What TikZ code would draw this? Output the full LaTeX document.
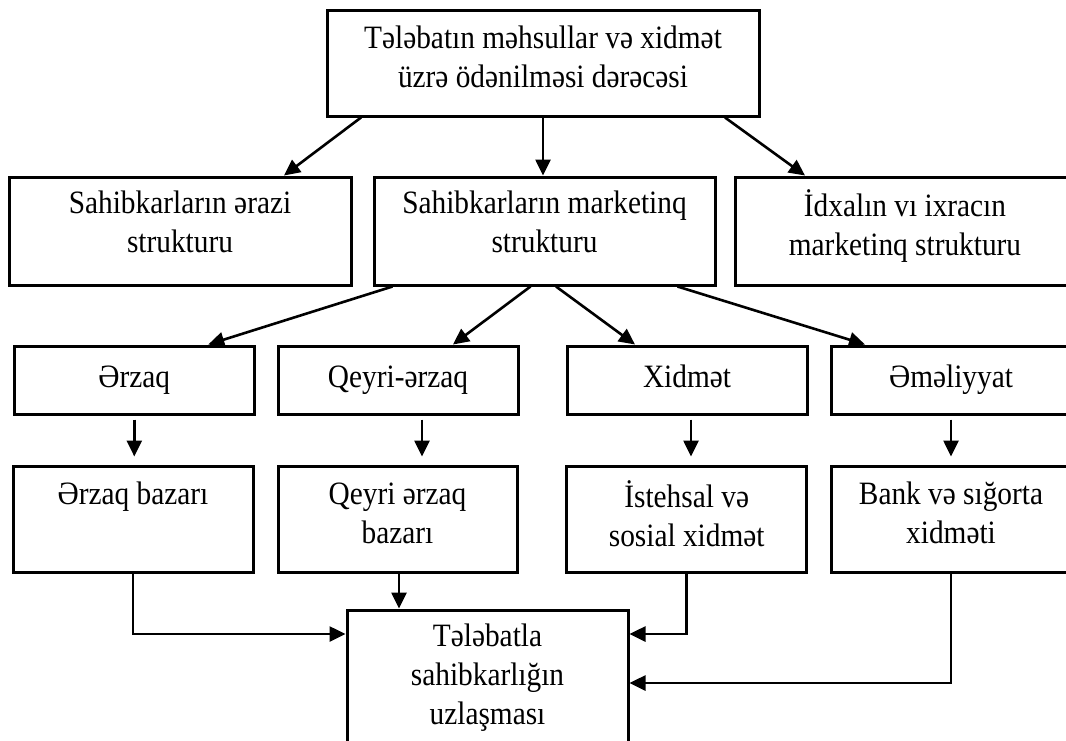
\documentclass[tikz,border=0pt]{standalone}
\usepackage{fontspec}
\setmainfont[FakeStretch=0.9]{Liberation Serif}
\usetikzlibrary{arrows.meta}
\begin{document}
\begin{tikzpicture}[x=1pt,y=-1pt,
  box/.style={draw,line width=3pt,inner sep=0pt,align=center,
    font=\fontsize{32.6}{39}\selectfont,
    execute at begin node=\strut, execute at end node=\strut},
  raise/.style={execute at end node={\rule[-17.7pt]{0pt}{0pt}}},
  lower/.style={execute at begin node={\rule{0pt}{37pt}}},
  arr/.style={line width=2.6pt,-{Triangle[length=16pt,width=15pt]}}]
\clip (0,0) rectangle (1066,740);
% boxes
\node[box,lower,minimum width=432,minimum height=106] (top) at (543,63) {Tələbatın məhsullar və xidmət\\üzrə ödənilməsi dərəcəsi};
\node[box,raise,minimum width=342,minimum height=108] (A) at (180,231) {Sahibkarların ərazi\\strukturu};
\node[box,raise,minimum width=341,minimum height=108] (B) at (544.5,231) {Sahibkarların marketinq\\strukturu};
\node[box,raise,minimum width=340,minimum height=108] (C) at (905,231) {İdxalın vı ixracın\\marketinq strukturu};
\node[box,minimum width=240,minimum height=68] (R1) at (134.3,380) {Ərzaq};
\node[box,minimum width=240,minimum height=68] (R2) at (398,380) {Qeyri-ərzaq};
\node[box,minimum width=240,minimum height=68] (R3) at (687,380) {Xidmət};
\node[box,minimum width=240,minimum height=68] (R4) at (951,380) {Əməliyyat};
\node[box,minimum width=240,minimum height=106] (S1) at (133,519) {Ərzaq bazarı\\\mbox{}};
\node[box,minimum width=239,minimum height=106] (S2) at (397.5,519) {Qeyri ərzaq\\bazarı};
\node[box,minimum width=240,minimum height=106] (S3) at (686.7,519) {İstehsal və\\sosial xidmət};
\node[box,minimum width=240,minimum height=106] (S4) at (951,519) {Bank və sığorta\\xidməti};
\node[box,minimum width=281,minimum height=140] (Bot) at (487.5,680) {Tələbatla\\sahibkarlığın\\uzlaşması};
% connectors
\draw[arr] ([xshift=-182pt]top.south) -- ([xshift=104pt]A.north);
\draw[arr] (top.south) -- (top.south |- B.north);
\draw[arr] ([xshift=182pt]top.south) -- ([xshift=-100pt]C.north);
\draw[arr] ([xshift=-152pt]B.south) -- ([xshift=74pt]R1.north);
\draw[arr] ([xshift=-14pt]B.south) -- ([xshift=55pt]R2.north);
\draw[arr] ([xshift=11.5pt]B.south) -- ([xshift=-52pt]R3.north);
\draw[arr] ([xshift=133pt]B.south) -- ([xshift=-86pt]R4.north);
\draw[arr,shorten <=4pt,shorten >=8pt] (R1.south) -- (R1.south |- S1.north);
\draw[arr,shorten <=4pt,shorten >=8pt] ([xshift=24pt]R2.south) -- ([xshift=24pt]R2.south |- S2.north);
\draw[arr,shorten <=4pt,shorten >=8pt] ([xshift=4pt]R3.south) -- ([xshift=4pt]R3.south |- S3.north);
\draw[arr,shorten <=4pt,shorten >=8pt] (R4.south) -- (R4.south |- S4.north);
\draw[arr] (S1.south) |- ([yshift=46pt]Bot.west);
\draw[arr] ([xshift=1.5pt]S2.south) -- ([xshift=1.5pt]S2.south |- Bot.north);
\draw[arr] (S3.south) |- ([yshift=46pt]Bot.east);
\draw[arr] (S4.south) |- ([yshift=-3pt]Bot.east);
\end{tikzpicture}
\end{document}
